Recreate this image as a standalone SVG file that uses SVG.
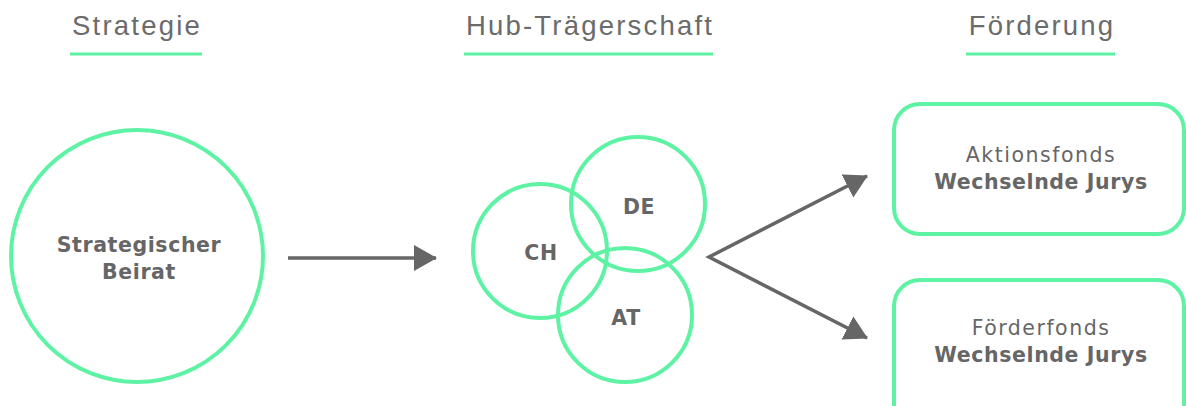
<svg xmlns="http://www.w3.org/2000/svg" width="1186" height="406" viewBox="0 0 1186 406">
<defs>
<style>
.hdr{font-family:"Liberation Sans",Arial,sans-serif;font-size:27.5px;fill:#6b6b6b;letter-spacing:2.2px;text-anchor:middle}
.ul{stroke:#5ef3a4;stroke-width:3}
.node{fill:none;stroke:#5ef3a4;stroke-width:4}
.b{font-family:"DejaVu Sans",sans-serif;font-weight:bold;font-size:20.5px;fill:#666;letter-spacing:0.6px;text-anchor:middle}
.r{font-family:"DejaVu Sans",sans-serif;font-size:20.5px;fill:#666;letter-spacing:1.5px;text-anchor:middle}
.conn{stroke:#666;stroke-width:3.5;fill:none}
</style>
<marker id="ah" viewBox="0 0 23 26" refX="22" refY="13" markerWidth="23" markerHeight="26" markerUnits="userSpaceOnUse" orient="auto-start-reverse">
<path d="M0,0 L23,13 L0,26 z" fill="#666"/>
</marker>
</defs>
<rect width="1186" height="406" fill="#fff"/>
<g id="headers">
<text class="hdr" x="137" y="35">Strategie</text>
<line class="ul" x1="70" y1="54" x2="202" y2="54"/>
<text class="hdr" x="590" y="35">Hub-Trägerschaft</text>
<line class="ul" x1="464" y1="54" x2="713" y2="54"/>
<text class="hdr" x="1042" y="35">Förderung</text>
<line class="ul" x1="966" y1="54" x2="1115" y2="54"/>
</g>
<g id="beirat">
<circle class="node" cx="137" cy="256" r="126"/>
<text class="b" x="139" y="252">Strategischer</text>
<text class="b" x="139" y="279">Beirat</text>
</g>
<g id="ch">
<circle class="node" cx="540" cy="251" r="67"/>
<text class="b" x="541" y="260">CH</text>
</g>
<g id="de">
<circle class="node" cx="638" cy="204" r="67"/>
<text class="b" x="639" y="214">DE</text>
</g>
<g id="at">
<circle class="node" cx="625" cy="315" r="67"/>
<text class="b" x="626" y="325">AT</text>
</g>
<g id="aktionsfonds">
<rect class="node" x="894" y="104" width="290" height="130" rx="26"/>
<text class="r" x="1041" y="162">Aktionsfonds</text>
<text class="b" x="1041" y="189">Wechselnde Jurys</text>
</g>
<g id="foerderfonds">
<rect class="node" x="894" y="280" width="290" height="160" rx="26"/>
<text class="r" x="1041" y="335">Förderfonds</text>
<text class="b" x="1041" y="362">Wechselnde Jurys</text>
</g>
<g id="connectors">
<line class="conn" x1="288" y1="258" x2="436" y2="258" marker-end="url(#ah)"/>
<polyline class="conn" points="867,176 709,257 867,338" marker-start="url(#ah)" marker-end="url(#ah)"/>
</g>
</svg>
